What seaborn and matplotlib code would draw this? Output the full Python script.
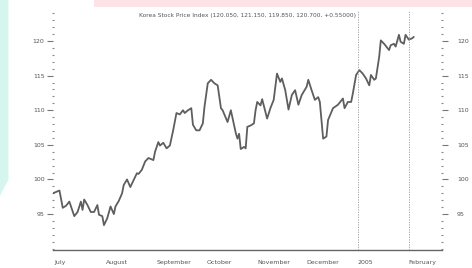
import matplotlib
matplotlib.use("Agg")
import matplotlib.dates as mdates
import matplotlib.pyplot as plt
from matplotlib import patches
from matplotlib.ticker import FuncFormatter, MultipleLocator
import pandas as pd
import seaborn as sns


TITLE = "Korea Stock Price Index (120.050, 121.150, 119.850, 120.700, +0.55000)"

dates = [
    "2004-06-30", "2004-07-04", "2004-07-06", "2004-07-08", "2004-07-09", "2004-07-10",
    "2004-07-13", "2004-07-15", "2004-07-17", "2004-07-18", "2004-07-19", "2004-07-21",
    "2004-07-23", "2004-07-25", "2004-07-27", "2004-07-28", "2004-07-30", "2004-07-31",
    "2004-08-02", "2004-08-04", "2004-08-06", "2004-08-07", "2004-08-09", "2004-08-11",
    "2004-08-12", "2004-08-14", "2004-08-16", "2004-08-18", "2004-08-20", "2004-08-21",
    "2004-08-23", "2004-08-25", "2004-08-27", "2004-08-30", "2004-08-31", "2004-09-02",
    "2004-09-03", "2004-09-05", "2004-09-07", "2004-09-09", "2004-09-11", "2004-09-13",
    "2004-09-15", "2004-09-17", "2004-09-18", "2004-09-20", "2004-09-22", "2004-09-23",
    "2004-09-25", "2004-09-27", "2004-09-29", "2004-09-30", "2004-10-02", "2004-10-04",
    "2004-10-06", "2004-10-08", "2004-10-10", "2004-10-11", "2004-10-14", "2004-10-16",
    "2004-10-19", "2004-10-20", "2004-10-21", "2004-10-22", "2004-10-24", "2004-10-25",
    "2004-10-26", "2004-10-28", "2004-10-30", "2004-10-31", "2004-11-01", "2004-11-03",
    "2004-11-04", "2004-11-07", "2004-11-09", "2004-11-11", "2004-11-13", "2004-11-15",
    "2004-11-16", "2004-11-18", "2004-11-20", "2004-11-22", "2004-11-24", "2004-11-26",
    "2004-11-28", "2004-12-01", "2004-12-02", "2004-12-04", "2004-12-06", "2004-12-08",
    "2004-12-09", "2004-12-11", "2004-12-13", "2004-12-14", "2004-12-17", "2004-12-20",
    "2004-12-23", "2004-12-24", "2004-12-26", "2004-12-28", "2004-12-29", "2004-12-31",
    "2005-01-02", "2005-01-04", "2005-01-06", "2005-01-08", "2005-01-09", "2005-01-11",
    "2005-01-12", "2005-01-14", "2005-01-15", "2005-01-17", "2005-01-20", "2005-01-21",
    "2005-01-23", "2005-01-24", "2005-01-26", "2005-01-27", "2005-01-29", "2005-01-30",
    "2005-02-01", "2005-02-03", "2005-02-04",
]

closes = [
    98.0, 98.4, 95.9, 96.2, 96.5, 96.8,
    94.7, 95.3, 96.8, 95.6, 97.1, 96.3,
    95.3, 95.3, 96.3, 94.9, 94.7, 93.4,
    94.4, 96.1, 95.0, 96.1, 96.9, 98.0,
    99.2, 100.0, 98.9, 99.9, 100.9, 100.8,
    101.4, 102.6, 103.1, 102.8, 104.0, 105.4,
    104.9, 105.3, 104.5, 104.9, 107.1, 109.6,
    109.4, 110.0, 109.6, 110.0, 110.3, 107.9,
    107.1, 107.1, 108.1, 110.5, 113.9, 114.4,
    113.9, 113.6, 110.3, 110.0, 108.3, 110.0,
    106.7, 105.9, 106.6, 104.4, 104.7, 104.5,
    107.6, 107.8, 108.1, 110.0, 111.2, 110.7,
    111.6, 108.8, 110.3, 111.5, 115.3, 114.1,
    114.6, 112.9, 110.1, 112.2, 112.9, 110.8,
    112.2, 113.4, 114.4, 112.9, 111.5, 111.9,
    111.2, 105.9, 106.2, 108.6, 110.3, 110.8,
    111.7, 110.3, 111.2, 111.2, 112.4, 115.1,
    115.8, 115.3, 114.6, 113.6, 115.1, 114.4,
    114.6, 117.7, 120.1, 119.6, 118.7, 119.4,
    119.6, 119.2, 120.9, 119.9, 119.6, 120.9,
    120.2, 120.4, 120.6,
]

marker_dates = ["2005-01-01", "2005-02-01"]
y_ticks = [95, 100, 105, 110, 115, 120]
Y_RANGE = (89.8, 124.5)

TEXT = "#555555"
LINE = "#5e5e5e"


def month_label(value, pos):
    d = mdates.num2date(value)
    return str(d.year) if d.month == 1 else d.strftime("%B")


def style_y(axis, pad):
    axis.set_ylim(*Y_RANGE)
    axis.set_yticks(y_ticks)
    axis.yaxis.set_minor_locator(MultipleLocator(1))
    axis.tick_params(axis="y", which="major", direction="out", length=4, width=0.8,
                     color="#777777", labelsize=4.5, labelcolor=TEXT, pad=pad)
    axis.tick_params(axis="y", which="minor", direction="inout", length=1.5, width=0.8,
                     color="#888888")


def main() -> None:
    sns.set_style("white")
    plt.rcParams["font.family"] = ["DejaVu Sans"]

    df = pd.DataFrame({"date": pd.to_datetime(dates), "close": closes})

    fig = plt.figure(figsize=(4.72, 2.68), dpi=100)
    fig.patch.set_facecolor("white")
    # slide decoration behind the chart
    fig.add_artist(patches.Polygon([(0, 1), (0.018, 1), (0.018, 0.33), (0, 0.27)],
                                   closed=True, transform=fig.transFigure,
                                   facecolor="#d6f5ec", edgecolor="none", zorder=0))
    fig.add_artist(patches.Rectangle((0.2, 0.975), 0.8, 0.025, transform=fig.transFigure,
                                     facecolor="#fde3e5", edgecolor="none", zorder=0))

    ax = fig.add_axes([0.112, 0.067, 0.824, 0.896])
    ax.set_facecolor("none")
    sns.lineplot(data=df, x="date", y="close", ax=ax, color=LINE, linewidth=1.3)

    for d in marker_dates:
        ax.axvline(pd.Timestamp(d), color="#9a9a9a", linestyle=(0, (1.5, 1.5)), linewidth=0.6)

    ax.set_xlim(pd.Timestamp("2004-06-30"), pd.Timestamp("2005-02-21"))

    for side in ["top", "left", "right"]:
        ax.spines[side].set_visible(False)
    ax.spines["bottom"].set_color("#666666")
    ax.spines["bottom"].set_linewidth(1.0)

    ax.xaxis.set_major_locator(mdates.MonthLocator())
    ax.xaxis.set_major_formatter(FuncFormatter(month_label))
    ax.xaxis.set_minor_locator(mdates.WeekdayLocator(byweekday=mdates.MO))
    ax.tick_params(axis="x", which="major", direction="out", length=6, width=0.7,
                   color="#666666", labelsize=4.5, labelcolor=TEXT, pad=1)
    ax.tick_params(axis="x", which="minor", direction="in", length=3, width=0.7, color="#666666")
    for lbl in ax.get_xticklabels():
        lbl.set_horizontalalignment("left")

    style_y(ax, pad=2)

    # right-hand scale mirrors the left one
    ax_r = ax.twinx()
    for side in ["top", "left", "right", "bottom"]:
        ax_r.spines[side].set_visible(False)
    style_y(ax_r, pad=7)

    ax.set_xlabel("")
    ax.set_ylabel("")
    ax.grid(False)

    fig.text(0.525, 0.943, TITLE, ha="center", va="center", fontsize=4.2, color=TEXT)

    fig.savefig("out.png", dpi=100)
    plt.close(fig)


if __name__ == "__main__":
    main()
